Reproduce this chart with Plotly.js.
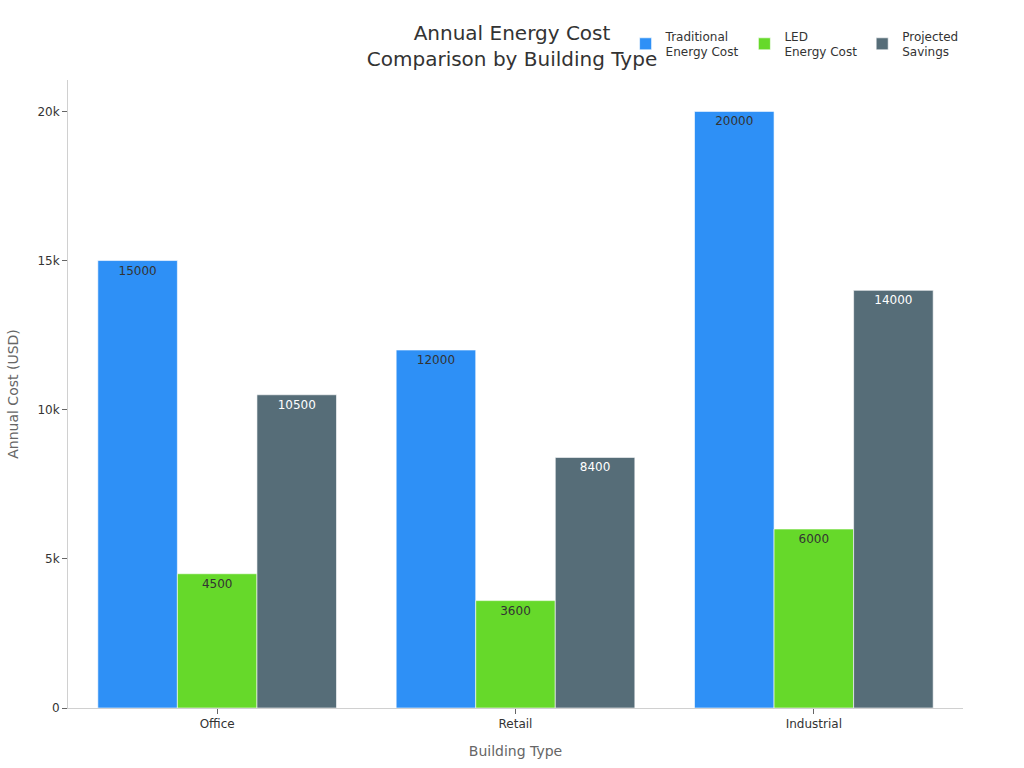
<!DOCTYPE html>
<html>
<head>
<meta charset="utf-8">
<script src="https://cdn.plot.ly/plotly-3.0.1.min.js"></script>
<style>html,body{margin:0;padding:0;background:#fff;}#chart{width:1024px;height:768px;}</style>
</head>
<body>
<div id="chart"></div>
<script>
const categories = ["Office", "Retail", "Industrial"];
const seriesNames = ["Traditional<br>Energy Cost", "LED<br>Energy Cost", "Projected<br>Savings"];
const traditionalCost = [15000, 12000, 20000];
const ledCost = [4500, 3600, 6000];
const projectedSavings = [10500, 8400, 14000];
const colors = ["#2E90F6", "#66D92A", "#566D78"];
const textColors = ["#333333", "#333333", "#ffffff"];
const values = [traditionalCost, ledCost, projectedSavings];

const data = values.map((v, i) => ({
  type: "bar",
  name: seriesNames[i],
  x: categories,
  y: v,
  text: v.map(String),
  textposition: "inside",
  insidetextanchor: "end",
  textangle: 0,
  textfont: {family: "DejaVu Sans", size: 12, color: textColors[i]},
  marker: {color: colors[i], line: {color: "rgba(255,255,255,0.6)", width: 1}},
  hoverinfo: "x+y+name"
}));

const layout = {
  width: 1024, height: 768,
  paper_bgcolor: "#fff", plot_bgcolor: "#fff",
  font: {family: "DejaVu Sans", size: 12, color: "#333"},
  title: {text: "Annual Energy Cost<br>Comparison by Building Type", x: 0.5, xanchor: "center", y: 0.948, yanchor: "top", font: {size: 20, color: "#333"}},
  margin: {l: 68, r: 61, t: 80, b: 60, autoexpand: false},
  barmode: "group", bargap: 0.2, bargroupgap: 0,
  showlegend: true,
  legend: {orientation: "h", x: 0.623, xanchor: "left", y: 1.057, yanchor: "middle", font: {size: 12, color: "#333"}, bgcolor: "rgba(0,0,0,0)"},
  xaxis: {
    title: {text: "Building Type", font: {size: 14, color: "#666"}, standoff: 15},
    showline: true, linecolor: "#d0d0d0", linewidth: 1,
    ticks: "outside", tickcolor: "#666", ticklen: 5,
    showgrid: false, zeroline: false
  },
  yaxis: {
    title: {text: "Annual Cost (USD)", font: {size: 14, color: "#666"}, standoff: 15},
    showline: true, linecolor: "#d0d0d0", linewidth: 1,
    ticks: "outside", tickcolor: "#666", ticklen: 5,
    showgrid: false, zeroline: false,
    tickvals: [0, 5000, 10000, 15000, 20000],
    ticktext: ["0", "5k", "10k", "15k", "20k"],
    range: [0, 21052]
  }
};
Plotly.newPlot("chart", data, layout, {displayModeBar: false});
</script>
</body>
</html>
